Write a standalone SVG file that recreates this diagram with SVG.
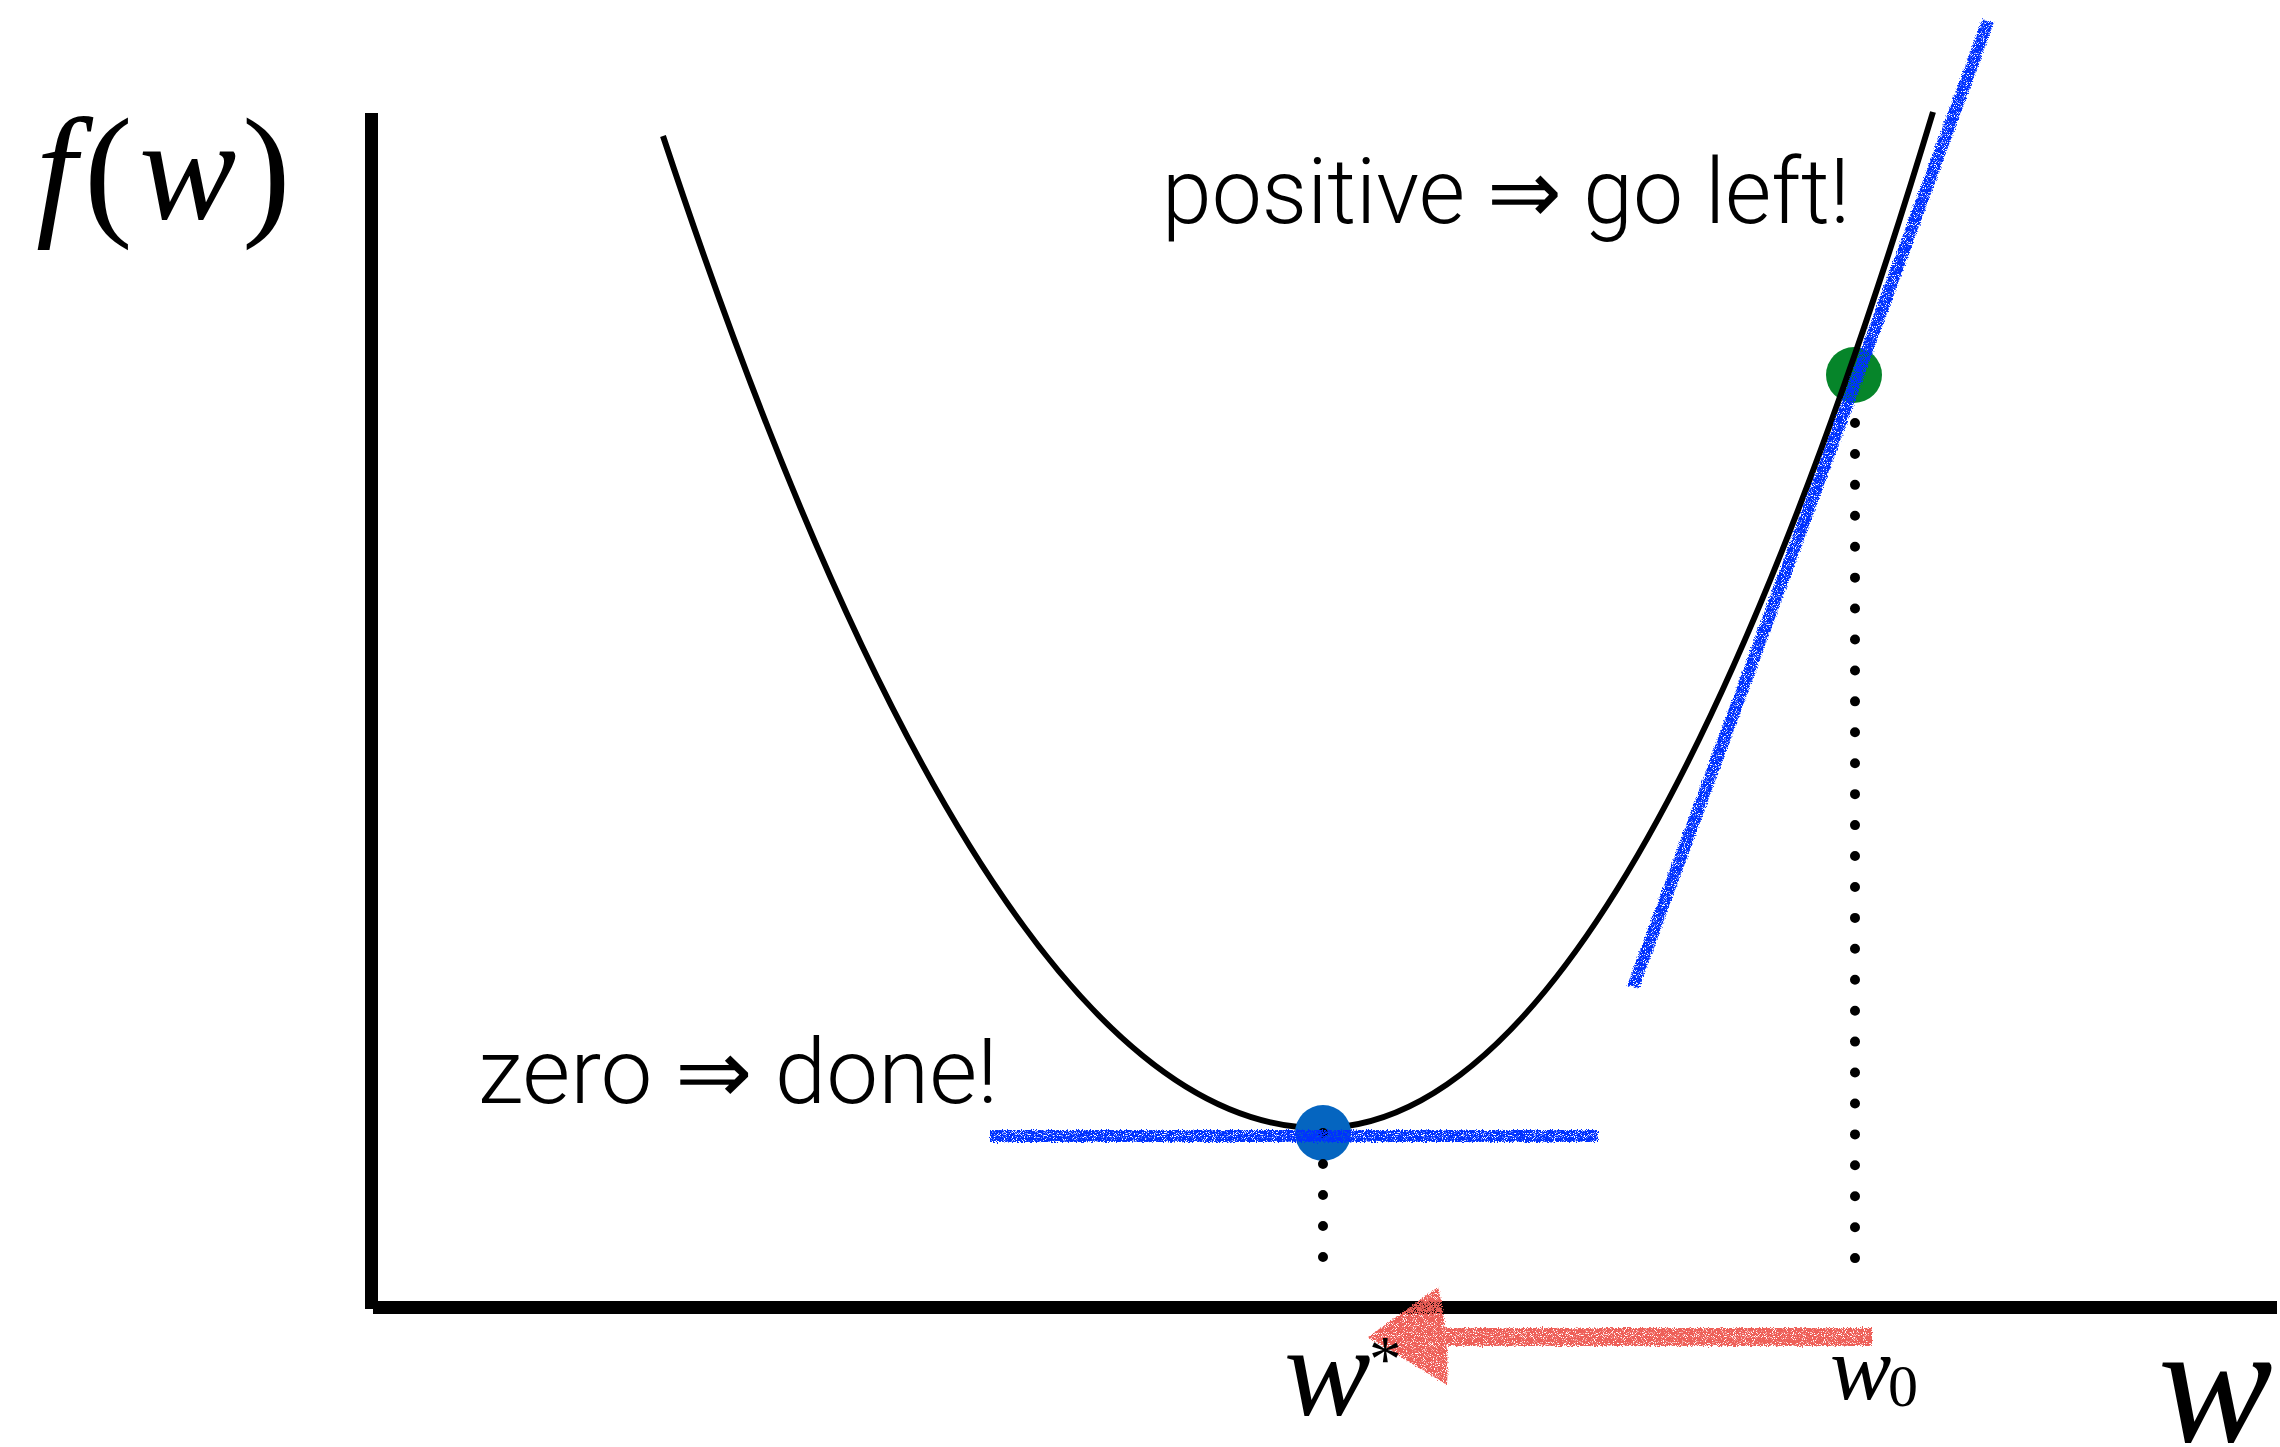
<svg xmlns="http://www.w3.org/2000/svg" width="2280" height="1447" viewBox="0 0 2280 1447">
  <defs>
    <filter id="crayon" x="-5%" y="-5%" width="110%" height="110%">
      <feTurbulence type="fractalNoise" baseFrequency="0.8" numOctaves="2" seed="3" result="noise"/>
      <feDisplacementMap in="SourceGraphic" in2="noise" scale="5" xChannelSelector="R" yChannelSelector="G" result="disp"/>
      <feTurbulence type="fractalNoise" baseFrequency="1.1" numOctaves="1" seed="7" result="n2"/>
      <feColorMatrix in="n2" type="matrix" values="0 0 0 0 0  0 0 0 0 0  0 0 0 0 0  8 0 0 0 -2.6" result="mask"/>
      <feComposite in="disp" in2="mask" operator="in"/>
    </filter>
    <style>
      .axis { fill: #000; }
      .curve { fill: none; stroke: #000; stroke-width: 6; }
      .dots { stroke: #000; stroke-width: 10; stroke-linecap: round; fill: none; }
      .tangent { stroke: #0433FF; stroke-width: 12; stroke-linecap: butt; fill: none; }
      .math { font-family: "Liberation Serif", "Times New Roman", serif; font-style: italic; fill: #000; }
      .roman { font-family: "Liberation Serif", "Times New Roman", serif; fill: #000; }
      .label { font-family: Roboto, "Liberation Sans", "DejaVu Sans", sans-serif; font-weight: 300; font-size: 90px; fill: #000; }
    </style>
  </defs>
  <rect width="2280" height="1447" fill="#fff"/>

  <g id="axes">
    <rect class="axis" x="365" y="113" width="13" height="1196"/>
    <rect class="axis" x="373" y="1301" width="1904" height="13"/>
  </g>

  <g id="w0-point">
    <circle cx="1854" cy="375" r="28" fill="#06852A"/>
  </g>

  <g id="curve">
    <path class="curve" d="M663,136 Q991.5,1128 1320,1128 Q1626.5,1128 1933,112"/>
  </g>

  <g id="wstar-point">
    <circle cx="1323" cy="1133" r="28" fill="#0565C0"/>
  </g>

  <g id="connectors">
    <line class="dots" x1="1323" y1="1133" x2="1323" y2="1288" stroke-dasharray="0 31"/>
    <line class="dots" x1="1855" y1="423" x2="1855" y2="1289" stroke-dasharray="0 30.93"/>
    <g filter="url(#crayon)">
      <line class="tangent" x1="990" y1="1136" x2="1598" y2="1136"/>
      <line class="tangent" x1="1633" y1="987" x2="1988" y2="21"/>
      <g id="step-arrow" fill="#EE5F58">
        <rect x="1440" y="1328" width="432" height="18"/>
        <path d="M1368,1337 L1438,1287 Q1450,1335 1447,1385 Z"/>
      </g>
    </g>
  </g>

  <g id="labels">
    <text class="math" font-size="146" y="219"><tspan x="36">f</tspan><tspan x="84" font-style="normal">(</tspan><tspan x="139">w</tspan><tspan x="242" font-style="normal">)</tspan></text>
    <text class="label" x="1162" y="223" textLength="688" lengthAdjust="spacingAndGlyphs">positive ⇒ go left!</text>
    <text class="label" x="478" y="1103" textLength="520" lengthAdjust="spacingAndGlyphs">zero ⇒ done!</text>
    <text class="math" font-size="130" x="1284" y="1415">w</text>
    <text class="roman" font-size="65" x="1369" y="1381">*</text>
    <text class="math" font-size="92" x="1830" y="1399">w</text>
    <text class="roman" font-size="60" x="1888" y="1406">0</text>
    <text class="math" font-size="172" x="2158" y="1441">w</text>
  </g>
</svg>
